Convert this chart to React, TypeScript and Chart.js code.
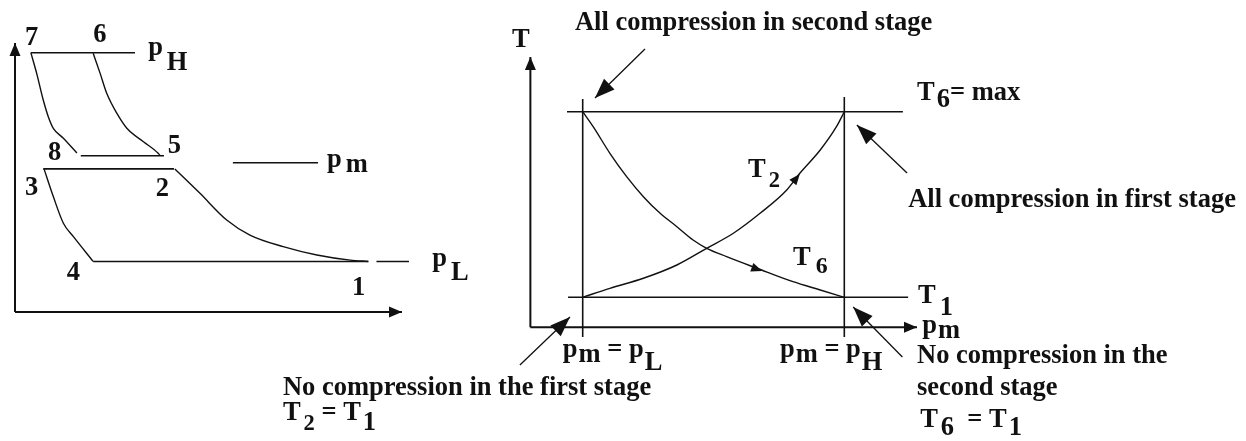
import React, { useEffect, useRef } from "react";
import { Chart, registerables } from "chart.js";

Chart.register(...registerables);

const W = 1246;
const H = 441;
const FONT = '"Liberation Serif", "Times New Roman", serif';
const BASE_SIZE = 26.5;

// ---------- Left panel: p–v diagram, two-stage compression with intercooling ----------
const pHigh = 9.64;
const pStage2In = 5.81; // 8–5
const pMid = 5.55; // p_m reference line
const pStage1Out = 5.32; // 3–2
const pLow = 1.88;

const pvAxisV = [[0, 0], [10, 0]];
const pvAxisP = [[0, 0], [0, 10]];
const isobarHigh = [[0.41, pHigh], [3.1, pHigh]];
const isobar85 = [[1.7, pStage2In], [3.85, pStage2In]];
const isobarMid = [[5.63, pMid], [7.83, pMid]];
const isobar32 = [[0.73, pStage1Out], [4.11, pStage1Out]];
const isobarLow = [[2.02, pLow], [9.13, pLow]];
const isobarLowTail = [[9.34, pLow], [10.18, pLow]];
const curve78 = [[0.41, 9.64], [0.56, 8.87], [0.73, 7.88], [0.86, 7.26], [0.99, 6.83], [1.25, 6.46], [1.6, 5.91]];
const curve65 = [[2.02, 9.62], [2.2, 8.87], [2.37, 8.13], [2.63, 7.39], [2.89, 6.83], [3.32, 6.33], [3.7, 5.9], [3.75, 5.81]];
const curve34 = [[0.75, 5.32], [0.99, 4.29], [1.25, 3.3], [1.51, 2.8], [2.02, 1.88]];
const curve21 = [[4.13, 5.32], [4.78, 4.41], [5.47, 3.42], [6.07, 2.86], [6.93, 2.43], [7.8, 2.12], [8.66, 1.93], [9.13, 1.88]];

// ---------- Right panel: outlet temperatures versus intermediate pressure ----------
const pmAtPL = 1;
const pmAtPH = 6;
const T1 = 300;
const T6max = 500;
const Torigin = 267.7;

const tpAxisPm = [[0, Torigin], [7.39, Torigin]];
const tpAxisT = [[0, Torigin], [0, 559]];
const lineT6max = [[0.7, T6max], [7.12, T6max]];
const lineT1 = [[0.72, T1], [7.22, T1]];
const linePL = [[pmAtPL, 257.2], [pmAtPL, 513.7]];
const linePH = [[pmAtPH, 257.2], [pmAtPH, 515.8]];
const curveT6 = [[1.0, 500], [1.2, 483.8], [1.52, 455.2], [1.84, 430.0], [2.16, 408.4], [2.48, 390.5], [2.8, 376.1], [3.11, 361.7], [3.37, 352.8], [3.75, 343.8], [4.33, 331.3], [5.02, 316.8], [5.54, 307.9], [6.0, 300]];
const curveT2 = [[1.0, 300], [1.52, 309.7], [2.16, 320.5], [2.8, 334.8], [3.37, 352.8], [3.88, 369.0], [4.39, 390.5], [4.9, 415.6], [5.15, 433.6], [5.54, 458.7], [5.85, 483.8], [6.0, 500]];

// Callout arrows (tail -> tip)
const calloutSecondStage = [[2.19, 567.6], [1.235, 514.7]];
const calloutFirstStage = [[7.2, 434], [6.24, 485.6]];
const calloutNoFirst = [[-0.2, 227.1], [0.757, 278.8]];
const calloutNoSecond = [[7.11, 235.7], [6.17, 289.5]];

// Direction markers along the curves: [from, tip]
const curveMarkers = [
  { from: [4.9, 415.6], tip: [5.15, 432.9] },
  { from: [4.01, 337.0], tip: [4.43, 328.3] },
];

type Part = { t: string; dx?: number; dy?: number; s?: number };
type Label = { panel: "L" | "R"; at: [number, number]; parts: Part[] };

const labels: Label[] = [
  { panel: "L", at: [0.26, 9.93], parts: [{ t: "7" }] },
  { panel: "L", at: [2.02, 10.04], parts: [{ t: "6" }] },
  { panel: "L", at: [3.44, 9.55], parts: [{ t: "p" }, { t: "H", dx: 4, dy: 15 }] },
  { panel: "L", at: [0.85, 5.65], parts: [{ t: "8" }] },
  { panel: "L", at: [3.95, 5.91], parts: [{ t: "5" }] },
  { panel: "L", at: [8.06, 5.39], parts: [{ t: "p" }, { t: "m", dx: 4, dy: 5 }] },
  { panel: "L", at: [0.26, 4.35], parts: [{ t: "3" }] },
  { panel: "L", at: [3.64, 4.31], parts: [{ t: "2" }] },
  { panel: "L", at: [1.34, 1.19], parts: [{ t: "4" }] },
  { panel: "L", at: [8.71, 0.63], parts: [{ t: "1" }] },
  { panel: "L", at: [10.78, 1.71], parts: [{ t: "p" }, { t: "L", dx: 4, dy: 14 }] },

  { panel: "R", at: [-0.35, 569.7], parts: [{ t: "T" }] },
  { panel: "R", at: [0.852, 588.0], parts: [{ t: "All compression in second stage" }] },
  { panel: "R", at: [7.39, 512.6], parts: [{ t: "T" }, { t: "6", dx: 2, dy: 7 }, { t: "= max" }] },
  { panel: "R", at: [7.22, 397.1], parts: [{ t: "All compression in first stage" }] },
  { panel: "R", at: [4.16, 429.6], parts: [{ t: "T" }, { t: "2", dx: 3, dy: 10, s: 0.85 }] },
  { panel: "R", at: [5.02, 334.8], parts: [{ t: "T" }, { t: "6", dx: 5, dy: 8, s: 0.9 }] },
  { panel: "R", at: [7.41, 293.9], parts: [{ t: "T" }, { t: "1", dx: 4, dy: 12 }] },
  { panel: "R", at: [7.49, 261.5], parts: [{ t: "p" }, { t: "m", dx: 1, dy: 5 }] },
  { panel: "R", at: [0.62, 235.7], parts: [{ t: "p" }, { t: "m", dx: 1, dy: 5 }, { t: " = p" }, { t: "L", dx: 1, dy: 13 }] },
  { panel: "R", at: [4.77, 235.7], parts: [{ t: "p" }, { t: "m", dx: 1, dy: 5 }, { t: " = p" }, { t: "H", dx: 1, dy: 13 }] },
  { panel: "R", at: [7.39, 229.2], parts: [{ t: "No compression in the" }] },
  { panel: "R", at: [7.39, 194.8], parts: [{ t: "second stage" }] },
  { panel: "R", at: [7.45, 160.3], parts: [{ t: "T" }, { t: "6", dx: 3, dy: 8 }, { t: "  = T" }, { t: "1", dx: 2, dy: 8 }] },
  { panel: "R", at: [-4.73, 194.8], parts: [{ t: "No compression in the first stage" }] },
  { panel: "R", at: [-4.73, 167.8], parts: [{ t: "T" }, { t: "2", dx: 3, dy: 10, s: 0.85 }, { t: " = T" }, { t: "1", dx: 2, dy: 10 }] },
];

// Linear scale bounds so that two reference values land on given pixels
function spanX(px0: number, v0: number, px1: number, v1: number) {
  const k = (px1 - px0) / (v1 - v0);
  const min = v0 - px0 / k;
  return { min, max: min + W / k };
}
function spanY(py0: number, v0: number, py1: number, v1: number) {
  const k = (py0 - py1) / (v1 - v0);
  const max = v0 + py0 / k;
  return { min: max - H / k, max };
}

function series(pts: number[][], panel: "L" | "R", extra: any = {}) {
  return {
    data: pts.map(([x, y]) => ({ x, y })),
    xAxisID: panel === "L" ? "xL" : "xR",
    yAxisID: panel === "L" ? "yL" : "yR",
    showLine: true,
    pointRadius: 0,
    pointHoverRadius: 0,
    borderColor: "#111",
    backgroundColor: "#111",
    borderWidth: 1.6,
    fill: false,
    ...extra,
  };
}

function drawHead(ctx: CanvasRenderingContext2D, ax: number, ay: number, bx: number, by: number, len: number, half: number) {
  const ang = Math.atan2(by - ay, bx - ax);
  const ux = Math.cos(ang), uy = Math.sin(ang);
  const baseX = bx - ux * len, baseY = by - uy * len;
  ctx.beginPath();
  ctx.moveTo(bx, by);
  ctx.lineTo(baseX - uy * half, baseY + ux * half);
  ctx.lineTo(baseX + uy * half, baseY - ux * half);
  ctx.closePath();
  ctx.fill();
}

const arrowPlugin = {
  id: "arrowHeads",
  afterDatasetsDraw(chart: any) {
    const ctx: CanvasRenderingContext2D = chart.ctx;
    ctx.save();
    ctx.fillStyle = "#111";
    chart.data.datasets.forEach((ds: any, i: number) => {
      if (!ds.arrowHead) return;
      const pts = chart.getDatasetMeta(i).data;
      const a = pts[pts.length - 2];
      const b = pts[pts.length - 1];
      drawHead(ctx, a.x, a.y, b.x, b.y, ds.arrowHead.len, ds.arrowHead.half);
    });
    const sx = chart.scales.xR, sy = chart.scales.yR;
    curveMarkers.forEach((m) => {
      drawHead(
        ctx,
        sx.getPixelForValue(m.from[0]), sy.getPixelForValue(m.from[1]),
        sx.getPixelForValue(m.tip[0]), sy.getPixelForValue(m.tip[1]),
        11, 4.5
      );
    });
    ctx.restore();
  },
};

const labelPlugin = {
  id: "diagramLabels",
  afterDraw(chart: any) {
    const ctx: CanvasRenderingContext2D = chart.ctx;
    ctx.save();
    ctx.fillStyle = "#111";
    ctx.textBaseline = "alphabetic";
    ctx.textAlign = "left";
    labels.forEach((lb) => {
      const sx = lb.panel === "L" ? chart.scales.xL : chart.scales.xR;
      const sy = lb.panel === "L" ? chart.scales.yL : chart.scales.yR;
      let x = sx.getPixelForValue(lb.at[0]);
      const y = sy.getPixelForValue(lb.at[1]);
      lb.parts.forEach((p) => {
        const size = BASE_SIZE * (p.s ?? 1);
        ctx.font = `bold ${size}px ${FONT}`;
        x += p.dx ?? 0;
        ctx.fillText(p.t, x, y + (p.dy ?? 0));
        x += ctx.measureText(p.t).width;
      });
    });
    ctx.restore();
  },
};

export default function App() {
  const ref = useRef<HTMLCanvasElement | null>(null);

  useEffect(() => {
    if (!ref.current) return;
    const axisHead = { len: 13, half: 5.5 };
    const calloutHead = { len: 20, half: 7.5 };
    const curveOpts = { cubicInterpolationMode: "monotone", borderWidth: 1.4 };

    const chart = new Chart(ref.current, {
      type: "scatter",
      data: {
        datasets: [
          series(pvAxisV, "L", { borderWidth: 2, arrowHead: axisHead }),
          series(pvAxisP, "L", { borderWidth: 2, arrowHead: axisHead }),
          series(isobarHigh, "L"),
          series(isobar85, "L"),
          series(isobarMid, "L"),
          series(isobar32, "L"),
          series(isobarLow, "L"),
          series(isobarLowTail, "L"),
          series(curve78, "L", curveOpts),
          series(curve65, "L", curveOpts),
          series(curve34, "L", curveOpts),
          series(curve21, "L", curveOpts),

          series(tpAxisPm, "R", { borderWidth: 2, arrowHead: axisHead }),
          series(tpAxisT, "R", { borderWidth: 2, arrowHead: axisHead }),
          series(lineT6max, "R"),
          series(lineT1, "R"),
          series(linePL, "R"),
          series(linePH, "R"),
          series(curveT6, "R", curveOpts),
          series(curveT2, "R", curveOpts),
          series(calloutSecondStage, "R", { borderWidth: 1.3, arrowHead: calloutHead }),
          series(calloutFirstStage, "R", { borderWidth: 1.3, arrowHead: calloutHead }),
          series(calloutNoFirst, "R", { borderWidth: 1.3, arrowHead: calloutHead }),
          series(calloutNoSecond, "R", { borderWidth: 1.3, arrowHead: calloutHead }),
        ] as any,
      },
      options: {
        animation: false,
        responsive: false,
        maintainAspectRatio: false,
        layout: { padding: 0 },
        events: [],
        plugins: { legend: { display: false }, tooltip: { enabled: false }, title: { display: false } },
        scales: {
          xL: { type: "linear", display: false, ...spanX(15, 0, 402, 10) },
          yL: { type: "linear", display: false, ...spanY(312, 0, 43, 10) },
          xR: { type: "linear", display: false, ...spanX(582.7, pmAtPL, 844.3, pmAtPH) },
          yR: { type: "linear", display: false, ...spanY(297.3, T1, 111.7, T6max) },
        },
      } as any,
      plugins: [arrowPlugin, labelPlugin],
    });
    return () => chart.destroy();
  }, []);

  return (
    <div style={{ position: "absolute", left: 0, top: 0, width: W, height: H, background: "#fff" }}>
      <canvas ref={ref} width={W} height={H} style={{ display: "block", width: W, height: H }} />
    </div>
  );
}
